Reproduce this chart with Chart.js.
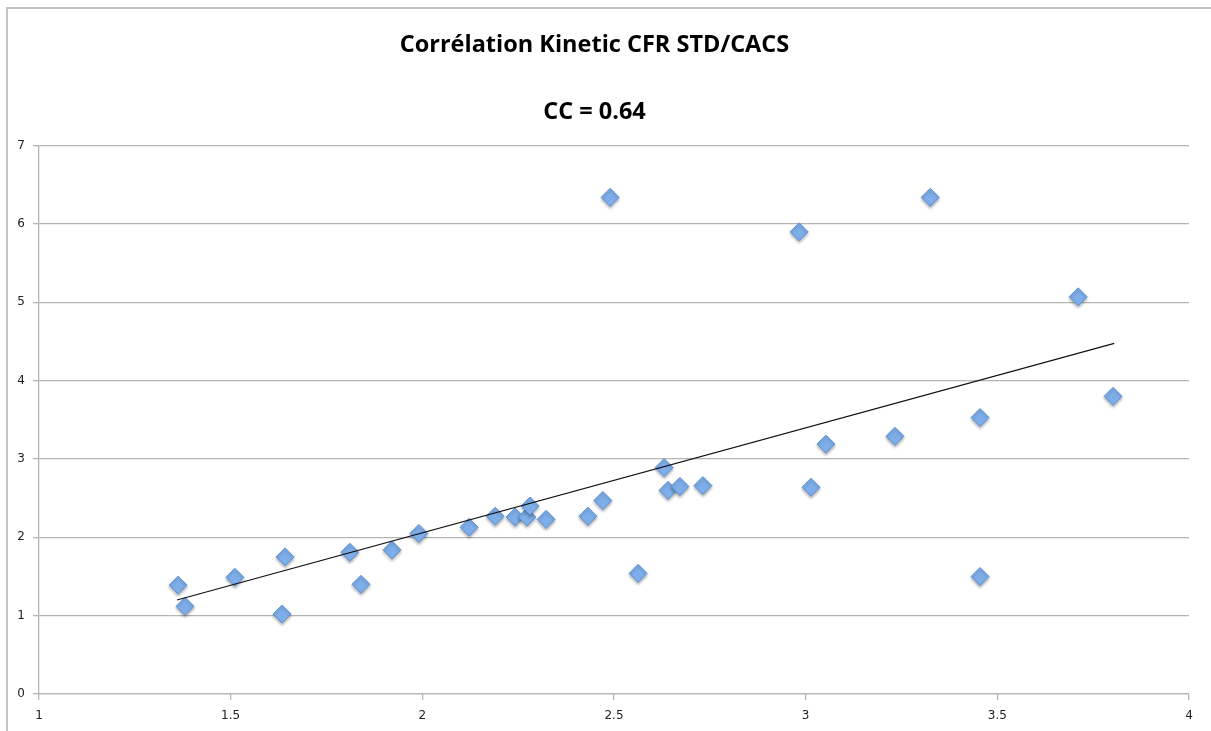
<!DOCTYPE html>
<html lang="fr">
<head>
    <script src="https://cdn.jsdelivr.net/npm/chart.js"></script>
    <meta charset="UTF-8">
    <title>Corrélation Kinetic CFR STD/CACS</title>
<style>
body {
    margin: 0;
    background: #fff;
    overflow: hidden;
}
/* cadre gris du graphique (haut et gauche seulement) */
.frame {
    position: absolute;
    left: 6px;
    top: 7px;
    width: 1300px;
    height: 800px;
    border-top: 2px solid #c4c4c4;
    border-left: 2px solid #c4c4c4;
}
#myChart {
    position: absolute;
    left: 0;
    top: 0;
}
</style>
</head>
<body>
<div class="frame"></div>
<canvas id="myChart" width="1211" height="731"></canvas>

<script>
// valeurs
const kineticX = [1.363, 1.381, 1.511, 1.634, 1.642, 1.811, 1.840, 1.921, 1.991, 2.122,
                  2.190, 2.242, 2.273, 2.281, 2.323, 2.432, 2.471, 2.490, 2.563, 2.631,
                  2.641, 2.672, 2.732, 2.983, 3.014, 3.053, 3.233, 3.325, 3.455, 3.455,
                  3.711, 3.802];
const cacsY = [1.39, 1.12, 1.49, 1.02, 1.75, 1.81, 1.40, 1.84, 2.05, 2.13,
               2.27, 2.26, 2.26, 2.40, 2.23, 2.27, 2.47, 6.34, 1.54, 2.89,
               2.60, 2.65, 2.66, 5.90, 2.64, 3.19, 3.29, 6.34, 3.53, 1.50,
               5.07, 3.80];
// droite de tendance (extrémités)
const trendX = [1.36, 3.805];
const trendY = [1.20, 4.475];

const xTicks = [1, 1.5, 2, 2.5, 3, 3.5, 4];
const yTicks = [0, 1, 2, 3, 4, 5, 6, 7];

const points = kineticX.map((x, i) => ({ x: x, y: cacsY[i] }));
const trend = trendX.map((x, i) => ({ x: x, y: trendY[i] }));

// petite ombre sous les losanges
const shadowPlugin = {
    id: 'shadow',
    beforeDatasetDraw(chart, args) {
        if (args.index === 1) {
            chart.ctx.save();
            chart.ctx.shadowColor = 'rgba(0,0,0,0.3)';
            chart.ctx.shadowBlur = 3;
            chart.ctx.shadowOffsetY = 2;
        }
    },
    afterDatasetDraw(chart, args) {
        if (args.index === 1) chart.ctx.restore();
    }
};

const ctx = document.getElementById('myChart').getContext('2d');
new Chart(ctx, {
    type: 'scatter',
    data: {
        datasets: [{
            type: 'line',
            data: trend,
            borderColor: '#111',
            borderWidth: 1.2,
            pointRadius: 0,
            fill: false,
            order: 0
        }, {
            data: points,
            pointStyle: 'rectRot',
            pointRadius: 9,
            pointHoverRadius: 9,
            backgroundColor: '#7eaee9',
            borderColor: '#5f92d6',
            borderWidth: 1,
            order: 1
        }]
    },
    options: {
        responsive: false,
        animation: false,
        layout: { padding: { left: 0, right: 22, top: 0, bottom: 0 } },
        plugins: {
            legend: { display: false },
            tooltip: { enabled: false },
            title: {
                display: true,
                text: 'Corrélation Kinetic CFR STD/CACS',
                color: '#000',
                font: { family: 'Open Sans', size: 23.5, weight: 'bold', lineHeight: 1.12 },
                padding: { top: 32, bottom: 0 }
            },
            subtitle: {
                display: true,
                text: 'CC = 0.64',
                color: '#000',
                font: { family: 'Open Sans', size: 23.5, weight: 'bold', lineHeight: 1.12 },
                padding: { top: 41, bottom: 20 }
            }
        },
        scales: {
            x: {
                type: 'linear',
                min: 1,
                max: 4,
                afterBuildTicks: axis => { axis.ticks = xTicks.map(v => ({ value: v })); },
                afterFit: axis => { axis.height = 37; },
                grid: { drawOnChartArea: false, tickLength: 6, color: '#b4b4b4', lineWidth: 1.3 },
                border: { color: '#b4b4b4', width: 1.3 },
                ticks: {
                    color: '#222',
                    padding: 9,
                    maxRotation: 0,
                    callback: v => String(v),
                    font: { family: 'DejaVu Sans', size: 12 }
                }
            },
            y: {
                min: 0,
                max: 7,
                afterBuildTicks: axis => { axis.ticks = yTicks.map(v => ({ value: v })); },
                afterFit: axis => { axis.width = 39; },
                grid: { tickLength: 6, color: '#b4b4b4', lineWidth: 1.3 },
                border: { color: '#b4b4b4', width: 1.3 },
                ticks: {
                    color: '#222',
                    padding: 8,
                    callback: v => String(v),
                    font: { family: 'DejaVu Sans', size: 12 }
                }
            }
        }
    },
    plugins: [shadowPlugin]
});
</script>
</body>
</html>
